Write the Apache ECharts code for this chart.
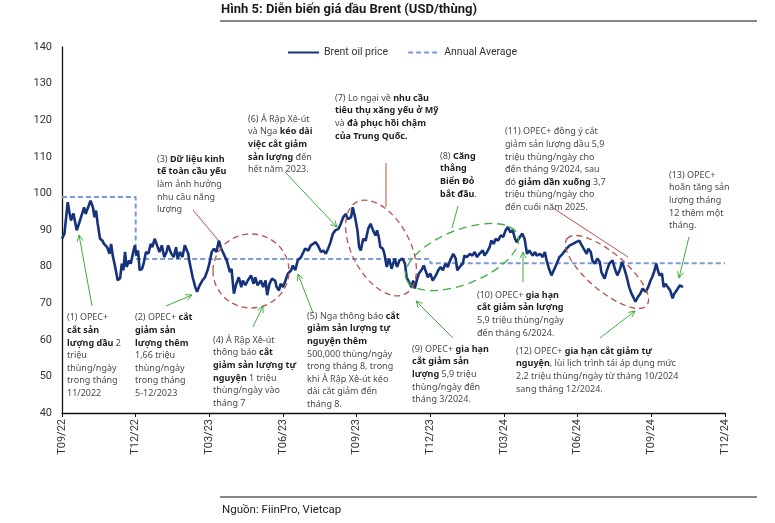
<!DOCTYPE html>
<html>
<head>
<meta charset="utf-8">
<script src="https://cdn.jsdelivr.net/npm/echarts@6/dist/echarts.min.js"></script>
<style>
html,body{margin:0;padding:0;background:#fff;}
#chart{width:775px;height:523px;}
</style>
</head>
<body>
<div id="chart"></div>
<script>
// ---------------- DATA ----------------
const tickLabels = ['T09/22','T12/22','T03/23','T06/23','T09/23','T12/23','T03/24','T06/24','T09/24','T12/24'];

const priceDates = [
'2022-09-01','2022-09-04','2022-09-08','2022-09-10','2022-09-12','2022-09-15','2022-09-19','2022-09-23','2022-09-28','2022-09-30',
'2022-10-06','2022-10-09','2022-10-11','2022-10-13','2022-10-15','2022-10-18','2022-10-21','2022-10-23','2022-10-27','2022-10-30',
'2022-11-01','2022-11-03','2022-11-06','2022-11-09','2022-11-12','2022-11-14','2022-11-16','2022-11-18','2022-11-20','2022-11-23',
'2022-11-25','2022-11-28','2022-11-30','2022-12-02','2022-12-04','2022-12-06','2022-12-09','2022-12-11','2022-12-14','2022-12-17',
'2022-12-20','2022-12-22','2022-12-25','2022-12-28','2022-12-31',
'2023-01-03','2023-01-06','2023-01-09','2023-01-11','2023-01-15','2023-01-18','2023-01-21','2023-01-23','2023-01-26','2023-01-29',
'2023-02-01','2023-02-05','2023-02-06','2023-02-08','2023-02-10','2023-02-13','2023-02-15','2023-02-18','2023-02-21','2023-02-24',
'2023-02-27','2023-03-01','2023-03-04','2023-03-07','2023-03-10','2023-03-13','2023-03-16','2023-03-18','2023-03-21','2023-03-23',
'2023-03-27','2023-03-29','2023-04-01','2023-04-04','2023-04-07','2023-04-10','2023-04-12','2023-04-15','2023-04-18','2023-04-22',
'2023-04-25','2023-04-27','2023-04-30','2023-05-04','2023-05-07','2023-05-10','2023-05-12','2023-05-15','2023-05-18','2023-05-22',
'2023-05-24','2023-05-27','2023-05-29','2023-06-01','2023-06-04','2023-06-07','2023-06-11','2023-06-13','2023-06-16','2023-06-19',
'2023-06-23','2023-06-26','2023-06-28','2023-07-02','2023-07-05','2023-07-08','2023-07-11','2023-07-14','2023-07-18','2023-07-21',
'2023-07-24','2023-07-27','2023-07-30','2023-08-02','2023-08-05','2023-08-09','2023-08-12','2023-08-15','2023-08-18','2023-08-21',
'2023-08-25','2023-08-27','2023-08-30','2023-09-02','2023-09-04','2023-09-06','2023-09-09','2023-09-12','2023-09-15','2023-09-18',
'2023-09-21','2023-09-24','2023-09-26','2023-09-28','2023-09-30','2023-10-03','2023-10-05','2023-10-08','2023-10-11','2023-10-14',
'2023-10-18','2023-10-21','2023-10-24','2023-10-28','2023-10-31','2023-11-02','2023-11-04','2023-11-06','2023-11-08','2023-11-10',
'2023-11-12','2023-11-15','2023-11-17','2023-11-20','2023-11-23','2023-11-25','2023-11-28','2023-12-01','2023-12-04','2023-12-08',
'2023-12-11','2023-12-14','2023-12-17','2023-12-20','2023-12-23','2023-12-26','2023-12-30',
'2024-01-02','2024-01-04','2024-01-07','2024-01-11','2024-01-13','2024-01-16','2024-01-20','2024-01-23','2024-01-26','2024-01-29',
'2024-02-01','2024-02-05','2024-02-07','2024-02-10','2024-02-13','2024-02-15','2024-02-18','2024-02-20','2024-02-23','2024-02-26',
'2024-02-29','2024-03-03','2024-03-06','2024-03-09','2024-03-12','2024-03-15','2024-03-17','2024-03-21','2024-03-24','2024-03-27',
'2024-03-30','2024-04-02','2024-04-06','2024-04-09','2024-04-11','2024-04-15','2024-04-18','2024-04-21','2024-04-23','2024-04-26',
'2024-04-29','2024-05-01','2024-05-05','2024-05-09','2024-05-13','2024-05-18','2024-05-22','2024-05-26','2024-05-30','2024-06-03',
'2024-06-06','2024-06-08','2024-06-12','2024-06-14','2024-06-17','2024-06-19','2024-06-22','2024-06-25','2024-06-28','2024-06-30',
'2024-07-04','2024-07-07','2024-07-10','2024-07-14','2024-07-17','2024-07-20','2024-07-23','2024-07-26','2024-07-29','2024-08-01',
'2024-08-04','2024-08-07','2024-08-10','2024-08-12','2024-08-15','2024-08-18','2024-08-21','2024-08-25','2024-08-28','2024-08-31',
'2024-09-02','2024-09-05','2024-09-07','2024-09-09','2024-09-11','2024-09-14','2024-09-16','2024-09-18','2024-09-21','2024-09-24',
'2024-09-27','2024-09-29','2024-10-02','2024-10-06','2024-10-08','2024-10-10'
];

const brentPrice = [
87.6,89.0,97.6,94.9,92.6,94.5,89.9,92.6,96.2,94.4,
98.0,96.2,93.5,95.3,91.8,87.6,87.1,86.2,85.3,83.5,
86.2,83.0,79.9,76.3,76.8,80.8,79.0,84.0,79.9,81.7,
80.8,84.0,85.8,83.0,84.4,79.0,79.4,80.8,84.0,83.5,
86.2,85.3,87.6,85.8,84.0,
85.8,82.6,84.0,85.8,83.5,82.6,85.3,82.2,84.0,82.6,
85.8,83.5,81.7,79.4,77.1,74.4,73.1,74.9,76.2,77.1,
79.0,80.8,84.0,84.9,84.0,87.1,84.9,84.0,82.6,81.7,
78.5,79.4,72.6,75.3,77.1,74.4,76.2,74.9,76.2,77.6,
75.3,77.1,74.9,76.2,74.4,76.2,72.2,75.3,76.7,76.2,
74.4,73.5,75.3,74.4,76.2,78.1,79.0,80.3,79.0,81.7,
82.6,84.0,84.9,84.4,85.8,86.2,86.7,85.8,84.0,84.4,
83.5,84.9,86.7,89.0,89.9,90.3,91.7,93.5,94.4,93.0,
93.5,96.2,93.5,89.9,85.3,84.4,87.6,87.1,90.3,91.7,
89.9,88.5,89.9,88.1,85.3,84.9,83.5,79.9,82.2,79.4,
82.2,79.9,81.7,82.2,80.8,77.1,77.6,75.3,74.4,76.2,
74.0,76.7,78.1,79.0,80.3,79.0,77.1,78.1,76.2,77.6,
79.0,79.9,79.0,80.8,79.9,81.7,83.5,
82.2,79.0,79.9,80.8,83.0,82.6,83.5,83.0,84.0,82.6,
83.5,84.4,83.0,84.0,85.3,87.1,86.2,87.6,87.1,88.5,
88.1,89.9,90.8,89.4,89.9,87.6,86.7,88.1,89.0,87.6,
83.5,84.4,83.0,84.0,83.0,83.5,82.6,84.0,81.7,79.4,
77.6,77.1,80.5,82.6,83.5,84.9,85.8,86.2,86.7,87.1,
85.8,85.3,83.5,84.9,84.0,81.7,80.8,82.2,81.3,78.5,
76.7,79.0,80.8,81.7,79.4,77.6,79.0,81.3,79.4,77.1,
74.4,72.6,71.3,70.4,71.7,72.6,74.0,73.1,74.4,76.2,
77.1,79.0,80.8,79.0,77.6,78.1,74.4,75.3,74.4,73.5,
71.3,72.6,73.5,74.9,75.3,74.4
];

// Annual averages: period boundaries and levels
const avgBounds = ['2022-09-01','2022-12-01','2023-12-01','2024-12-01'];
const avgValues = [99.0, 82.1, 80.9];

// ---------------- HELPERS ----------------
function toMonths(s){
  const p = s.split('-').map(Number);
  const dim = new Date(p[0], p[1], 0).getDate();
  return (p[0]-2022)*12 + (p[1]-9) + (p[2]-1)/dim;
}
const priceData = priceDates.map((d,i)=>[toMonths(d), brentPrice[i]]);
const avgData = [];
avgValues.forEach((v,i)=>{
  avgData.push([toMonths(avgBounds[i]), v]);
  avgData.push([toMonths(avgBounds[i+1]), v]);
});

const GREEN = '#3fae3f';
const RED = '#b8524a';
const TXT = '#3a3a3a';
const annFont = '"Noto Sans", "DejaVu Sans", sans-serif';
const narrow = '"Liberation Sans Narrow", "Roboto", sans-serif';

function ann(x, y, text){
  return {
    type:'text', x:x, y:y, z:20,
    style:{
      text:text, fontFamily:annFont, fontSize:9, lineHeight:12.6, fill:TXT,
      verticalAlign:'top', align:'left',
      rich:{
        r:{fontFamily:annFont, fontSize:9, lineHeight:12.6, fill:'#4a4a4a'},
        b:{fontFamily:annFont, fontSize:9, lineHeight:12.6, fontWeight:'bold', fill:'#1e1e1e'}
      }
    }
  };
}
function seg(pts, color){
  return {type:'polyline', z:15, shape:{points:pts}, style:{stroke:color, lineWidth:1, fill:null}};
}
function arrow(x1,y1,x2,y2){
  const a = Math.atan2(y2-y1, x2-x1), L=7, w=0.45;
  return [
    seg([[x1,y1],[x2,y2]], GREEN),
    seg([[x2-L*Math.cos(a-w), y2-L*Math.sin(a-w)],[x2,y2],[x2-L*Math.cos(a+w), y2-L*Math.sin(a+w)]], GREEN)
  ];
}
function ell(cx,cy,rx,ry,rot,color,dash){
  return {type:'ellipse', x:cx, y:cy, rotation:rot, z:14,
    shape:{cx:0,cy:0,rx:rx,ry:ry},
    style:{fill:null, stroke:color, lineWidth:1.3, lineDash:dash}};
}

const graphics = [
  {type:'text', x:221, y:3, style:{text:'Hình 5: Diễn biến giá dầu Brent (USD/thùng)', fontFamily:narrow, fontSize:13, fontWeight:'bold', fill:'#1a1a1a'}},
  {type:'line', shape:{x1:220,y1:21,x2:757,y2:21}, style:{stroke:'#111', lineWidth:1.2}},
  {type:'line', shape:{x1:220,y1:497,x2:757,y2:497}, style:{stroke:'#111', lineWidth:1.2}},
  {type:'text', x:222, y:504, style:{text:'Nguồn: FiinPro, Vietcap', fontFamily:narrow, fontSize:11.5, fill:'#222'}},

  ann(67, 311.5, '{r|(1) OPEC+}\n{b|cắt sản}\n{b|lượng dầu}{r| 2}\n{r|triệu}\n{r|thùng/ngày}\n{r|trong tháng}\n{r|11/2022}'),
  ann(135, 311.5, '{r|(2) OPEC+ }{b|cắt}\n{b|giảm sản}\n{b|lượng thêm}\n{r|1,66 triệu}\n{r|thùng/ngày}\n{r|trong tháng}\n{r|5-12/2023}'),
  ann(157, 153, '{r|(3) }{b|Dữ liệu kinh}\n{b|tế toàn cầu yếu}\n{r|làm ảnh hưởng}\n{r|nhu cầu năng}\n{r|lượng}'),
  ann(213, 334, '{r|(4) Ả Rập Xê-út}\n{r|thông báo }{b|cắt}\n{b|giảm sản lượng tự}\n{b|nguyện}{r| 1 triệu}\n{r|thùng/ngày vào}\n{r|tháng 7}'),
  ann(307, 310, '{r|(5) Nga thông báo }{b|cắt}\n{b|giảm sản lượng tự}\n{b|nguyện thêm}\n{r|500,000 thùng/ngày}\n{r|trong tháng 8, trong}\n{r|khi Ả Rập Xê-út kéo}\n{r|dài cắt giảm đến}\n{r|tháng 8.}'),
  ann(248, 113, '{r|(6) Ả Rập Xê-út}\n{r|và Nga }{b|kéo dài}\n{b|việc cắt giảm}\n{b|sản lượng}{r| đến}\n{r|hết năm 2023.}'),
  ann(335, 92, '{r|(7) Lo ngại về }{b|nhu cầu}\n{b|tiêu thụ xăng yếu ở Mỹ}\n{r|và }{b|đà phục hồi chậm}\n{b|của Trung Quốc.}'),
  ann(440, 150, '{r|(8) }{b|Căng}\n{b|thẳng}\n{b|Biển Đỏ}\n{b|bắt đầu}{r|.}'),
  ann(412, 343, '{r|(9) OPEC+ }{b|gia hạn}\n{b|cắt giảm sản}\n{b|lượng}{r| 5,9 triệu}\n{r|thùng/ngày đến}\n{r|tháng 3/2024.}'),
  ann(477, 289, '{r|(10) OPEC+ }{b|gia hạn}\n{b|cắt giảm sản lượng}\n{r|5,9 triệu thùng/ngày}\n{r|đến tháng 6/2024.}'),
  ann(505, 125.5, '{r|(11) OPEC+ đồng ý cắt}\n{r|giảm sản lượng dầu 5,9}\n{r|triệu thùng/ngày cho}\n{r|đến tháng 9/2024, sau}\n{r|đó }{b|giảm dần xuống}{r| 3,7}\n{r|triệu thùng/ngày cho}\n{r|đến cuối năm 2025.}'),
  ann(516, 345, '{r|(12) OPEC+ }{b|gia hạn cắt giảm tự}\n{b|nguyện}{r|, lùi lịch trình tái áp dụng mức}\n{r|2,2 triệu thùng/ngày từ tháng 10/2024}\n{r|sang tháng 12/2024.}'),
  ann(669, 169, '{r|(13) OPEC+}\n{r|hoãn tăng sản}\n{r|lượng tháng}\n{r|12 thêm một}\n{r|tháng.}'),

  ell(251, 271, 38, 37, 0, RED, [6,4]),
  ell(381, 248, 29, 52, 0.49, RED, [6,4]),
  ell(607, 272, 52, 19, -0.70, RED, [6,4]),
  ell(462, 257, 60, 27, 0.38, GREEN, [8,5]),

  seg([[193,210],[218,240]], RED),
  seg([[386,163],[386,207]], RED),
  seg([[553,208],[628,257]], RED),
  seg([[458,206],[452,228]], GREEN)
].concat(
  arrow(92,306,79,235),
  arrow(166,306,192,295),
  arrow(253,327,263,306),
  arrow(313,313,298,274),
  arrow(285,172,337,227),
  arrow(453,338,416,301),
  arrow(523,282,523,252),
  arrow(600,338,635,311),
  arrow(689,237,679,278)
);

const chart = echarts.init(document.getElementById('chart'), null, {renderer:'canvas'});
chart.setOption({
  animation:false,
  backgroundColor:'#fff',
  grid:{left:62, right:50, top:47, bottom:110},
  legend:{
    left:282, top:42, itemWidth:31, itemHeight:10, itemGap:19,
    itemStyle:{opacity:0},
    textStyle:{fontFamily:narrow, fontSize:10.5, color:'#333'},
    data:['Brent oil price','Annual Average']
  },
  xAxis:{
    type:'value', min:0, max:27, interval:3,
    axisLine:{show:true, onZero:false, lineStyle:{color:'#111', width:1.3}},
    axisTick:{show:true, length:4, lineStyle:{color:'#111'}},
    splitLine:{show:false},
    axisLabel:{rotate:90, margin:6, fontFamily:narrow, fontSize:11, color:'#333',
      formatter:function(v){ return tickLabels[Math.round(v/3)] || ''; }}
  },
  yAxis:{
    type:'value', min:40, max:140, interval:10,
    axisLine:{show:true, lineStyle:{color:'#111', width:1.3}},
    axisTick:{show:false},
    splitLine:{show:false},
    axisLabel:{margin:10, fontFamily:narrow, fontSize:11, color:'#333'}
  },
  series:[
    {name:'Brent oil price', type:'line', data:priceData, showSymbol:false, symbol:'none',
     lineStyle:{color:'#15327a', width:2.6}, itemStyle:{color:'#15327a'}, z:5},
    {name:'Annual Average', type:'line', data:avgData, showSymbol:false, symbol:'none',
     lineStyle:{color:'#7d9bd2', width:2, type:[5,3]}, itemStyle:{color:'#7d9bd2'}, z:4}
  ],
  graphic:graphics
});
</script>
</body>
</html>
